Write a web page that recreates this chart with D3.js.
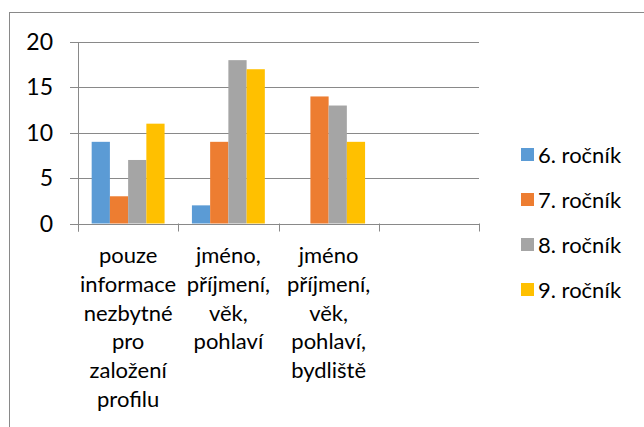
<!DOCTYPE html>
<html lang="cs">
  <head>
    <meta charset="UTF-8" />
    <title>Ročníky</title>
    <style>
      body { margin: 0; background: #fff; }
      svg text { font-family: Lato, "Open Sans", sans-serif; fill: #000; }
    </style>
    <script src="https://d3js.org/d3.v7.min.js"></script>
  </head>
  <body>
    <div id="chart"></div>
    <script>
      // categories (label lines as wrapped in the original), last one is empty
      const categories = [
        ["pouze", "informace", "nezbytné", "pro", "založení", "profilu"],
        ["jméno,", "příjmení,", "věk,", "pohlaví"],
        ["jméno", "příjmení,", "věk,", "pohlaví,", "bydliště"],
        [],
      ];
      const series = ["6. ročník", "7. ročník", "8. ročník", "9. ročník"];
      const colors = ["#5B9BD5", "#ED7D31", "#A5A5A5", "#FFC000"];
      // values[series][category], null = no bar
      const values = [
        [9, 2, null, null],
        [3, 9, 14, null],
        [7, 18, 13, null],
        [11, 17, 9, null],
      ];
      const yTicks = [0, 5, 10, 15, 20];

      const W = 644, H = 427;
      const plot = { left: 78, right: 479, top: 42, bottom: 223.5 };

      const svg = d3.select("#chart").append("svg")
        .attr("width", W).attr("height", H);

      // chart border (runs off the right and bottom edge)
      svg.append("rect")
        .attr("x", 9.5).attr("y", 12.5)
        .attr("width", 700).attr("height", 500)
        .attr("fill", "none").attr("stroke", "#898989").attr("stroke-width", 1);

      const x = d3.scaleBand()
        .domain(d3.range(categories.length))
        .range([plot.left, plot.right])
        .padding(0);

      const xSub = d3.scaleBand()
        .domain(d3.range(series.length))
        .range([0, x.bandwidth()])
        .paddingInner(0)
        .paddingOuter(0.75);

      const y = d3.scaleLinear().domain([0, 20]).range([plot.bottom, plot.top]);

      // gridlines
      svg.append("g").selectAll("line").data(yTicks).join("line")
        .attr("x1", plot.left - 8).attr("x2", plot.right)
        .attr("y1", d => Math.round(y(d)) + 0.5).attr("y2", d => Math.round(y(d)) + 0.5)
        .attr("stroke", "#898989").attr("stroke-width", 1);

      // y tick labels
      svg.append("g").selectAll("text").data(yTicks).join("text")
        .attr("x", 53).attr("y", d => y(d))
        .attr("dy", "0.35em")
        .attr("text-anchor", "end")
        .style("font-size", "23px")
        .text(d => d);

      // bars
      const bars = [];
      series.forEach((s, si) => {
        values[si].forEach((v, ci) => {
          if (v !== null) bars.push({ si, ci, v });
        });
      });
      svg.append("g").selectAll("rect").data(bars).join("rect")
        .attr("x", d => x(d.ci) + xSub(d.si))
        .attr("y", d => y(d.v))
        .attr("width", xSub.bandwidth())
        .attr("height", d => y(0) - y(d.v))
        .attr("fill", d => colors[d.si]);

      // axes lines
      svg.append("line")
        .attr("x1", plot.left + 0.5).attr("x2", plot.left + 0.5)
        .attr("y1", plot.top).attr("y2", plot.bottom + 8)
        .attr("stroke", "#898989");
      svg.append("line")
        .attr("x1", plot.left - 8).attr("x2", plot.right)
        .attr("y1", Math.round(y(0)) + 0.5).attr("y2", Math.round(y(0)) + 0.5)
        .attr("stroke", "#898989");
      const bounds = d3.range(categories.length + 1).map(i =>
        i < categories.length ? x(i) : plot.right);
      svg.append("g").selectAll("line").data(bounds).join("line")
        .attr("x1", d => Math.round(d) + 0.5).attr("x2", d => Math.round(d) + 0.5)
        .attr("y1", plot.bottom).attr("y2", plot.bottom + 8)
        .attr("stroke", "#898989");

      // category labels
      const catG = svg.append("g").selectAll("text").data(categories).join("text")
        .attr("text-anchor", "middle")
        .style("font-size", "22px");
      catG.selectAll("tspan").data((d, i) => d.map(line => ({ line, i }))).join("tspan")
        .attr("x", d => x(d.i) + x.bandwidth() / 2)
        .attr("y", (d, j) => 263 + j * 28.8)
        .text(d => d.line);

      // legend
      const leg = svg.append("g").selectAll("g").data(series).join("g")
        .attr("transform", (d, i) => `translate(521,${155 + i * 45})`);
      leg.append("rect")
        .attr("x", 0).attr("y", -7).attr("width", 13).attr("height", 13)
        .attr("fill", (d, i) => colors[i]);
      leg.append("text")
        .attr("x", 17).attr("y", 0).attr("dy", "0.35em")
        .style("font-size", "22px")
        .text(d => d);
    </script>
  </body>
</html>
